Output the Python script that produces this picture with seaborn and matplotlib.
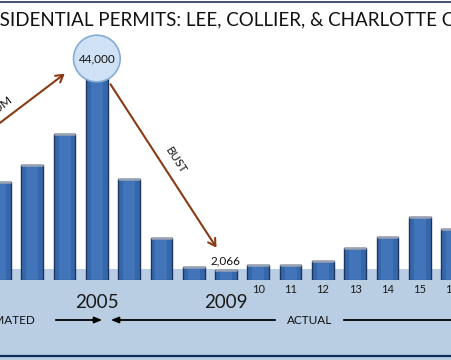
"""
Residential permits, Lee / Collier / Charlotte counties - boom & bust bar chart
"""

import matplotlib
matplotlib.use("Agg")
import matplotlib.pyplot as plt
from matplotlib.patches import Rectangle
from matplotlib.lines import Line2D
import seaborn as sns

# data (2002 bar is cut at the left edge, 2016 at the right)
years = ['2002', '2003', '2004', '2005', '2006', '2007', '2008', '2009',
         '2010', '2011', '2012', '2013', '2014', '2015', '2016']
permits = [20600, 24200, 30800, 44000, 21300, 8900, 2550, 2066,
           3000, 3000, 4000, 6600, 9100, 13200, 10800]
short_labels = ['', '', '', '', '', '', '', '', '10', '11', '12', '13', '14', '15', '16']
big_labels = {'2005': 3, '2009': 7}

sns.set_style("white")
plt.rcParams['font.family'] = ['Lato', 'DejaVu Sans']

W, H = 452, 360
fig = plt.figure(figsize=(W / 100, H / 100), dpi=100)
fig.patch.set_facecolor('white')

navy = '#0f2c57'
brown = '#8a3b14'
band = '#b9cde3'

# light blue floor band + frame lines (behind the axes)
fig.patches.append(Rectangle((0, 0), 1, (H - 269) / H, transform=fig.transFigure,
                             facecolor=band, edgecolor='none', zorder=-5))
fig.lines.append(Line2D([0, 1], [(H - 356) / H] * 2, transform=fig.transFigure,
                       color=navy, lw=1.6, zorder=-4))
fig.lines.append(Line2D([0, 1], [(H - 2) / H] * 2, transform=fig.transFigure,
                       color='#23344f', lw=1.2, zorder=-4))

# bars axes: bottom edge = bar baseline
base = 279.5
ax = fig.add_axes([0, (H - base) / H, 1, base / H])
ax.set_zorder(2)
ax.patch.set_alpha(0)

sns.barplot(x=years, y=permits, color='#3767ab', width=0.67, saturation=1,
            edgecolor='#1b355f', linewidth=1.0, ax=ax, zorder=3)

# lighter core + grey cap to fake the glossy look
for p in list(ax.patches):
    x0, w, h = p.get_x(), p.get_width(), p.get_height()
    ax.add_patch(Rectangle((x0 + w * 0.22, 0), w * 0.56, h, facecolor='#4a7fc6',
                           edgecolor='none', alpha=0.55, zorder=4))
    ax.plot([x0, x0 + w], [h, h], color='#9aa3b3', lw=1.8, zorder=5,
            solid_capstyle='butt')

ax.set_xlim(0.212, 13.909)
ax.set_ylim(0, 44000 / (base - 72) * base)
for s in ax.spines.values():
    s.set_visible(False)
ax.set_yticks([])
ax.set_xlabel('')
ax.set_ylabel('')

ax.set_xticks(range(len(years)))
ax.set_xticklabels(short_labels, fontsize=8, color='#1a1a1a')
ax.tick_params(axis='x', which='major', length=0, pad=3)
ax.set_xticks([i + 0.5 for i in range(len(years) - 1)], minor=True)
ax.tick_params(axis='x', which='minor', length=3.5, width=0.8, color='#eef2f7',
               direction='out')

for lab, i in big_labels.items():
    ax.text(i, -(302 - base) / base, lab, transform=ax.get_xaxis_transform(),
            ha='center', va='center', fontsize=13.5, color='#1a1a1a')

# value callouts
ax.annotate('44,000', xy=(3, 44000), xytext=(0, 9.7), textcoords='offset points',
            ha='center', va='center', fontsize=8.5, color='#111111', zorder=10,
            bbox=dict(boxstyle='circle,pad=0.42', facecolor='#cfe2f5',
                      edgecolor='#86acd5', lw=1.2))
ax.annotate('2,066', xy=(7, 2066), xytext=(0, 6.5), textcoords='offset points',
            ha='center', va='center', fontsize=8.5, color='#111111')

# boom / bust arrows (figure pixels, origin bottom-left)
arrow_kw = dict(arrowstyle='->,head_length=0.5,head_width=0.3', color=brown, lw=1.5)
ax.annotate('', xy=(67, H - 72), xycoords='figure pixels',
            xytext=(-20, H - 138), textcoords='figure pixels', arrowprops=arrow_kw)
ax.annotate('', xy=(218, H - 250), xycoords='figure pixels',
            xytext=(109, H - 82), textcoords='figure pixels', arrowprops=arrow_kw)
fig.text(14 / W, (H - 101) / H, 'BOOM', rotation=37, rotation_mode='anchor',
         ha='right', va='baseline', fontsize=8.5, color='#111111')
fig.text(176 / W, (H - 160) / H, 'BUST', rotation=-57, rotation_mode='anchor',
         ha='center', va='center', fontsize=8.5, color='#111111')

# estimated / actual brackets
yb = H - 320
blk = dict(arrowstyle='-|>,head_length=0.45,head_width=0.18', color='black', lw=1.3)
ax.annotate('', xy=(105, yb), xycoords='figure pixels',
            xytext=(53, yb), textcoords='figure pixels', arrowprops=blk)
ax.annotate('', xy=(108, yb), xycoords='figure pixels',
            xytext=(278, yb), textcoords='figure pixels', arrowprops=blk)
ax.annotate('', xy=(475, yb), xycoords='figure pixels',
            xytext=(341, yb), textcoords='figure pixels', arrowprops=blk)
fig.text(36 / W, yb / H, 'ESTIMATED', ha='right', va='center', fontsize=8.5,
         color='#111111', zorder=5)
fig.text(310 / W, yb / H, 'ACTUAL', ha='center', va='center', fontsize=8.5,
         color='#111111', zorder=5)

# title, shifted so the first letters fall off the left edge as in the reference
title_fs = 13.5
fig.canvas.draw()
probe = fig.text(0, 0, 'RE', fontsize=title_fs)
shift = probe.get_window_extent(fig.canvas.get_renderer()).width
probe.remove()
fig.text(-shift / W, (H - 20) / H, 'RESIDENTIAL PERMITS: LEE, COLLIER, & CHARLOTTE COUNTIES',
         ha='left', va='center', fontsize=title_fs, color='#111111')

fig.savefig('out.png', dpi=100)
